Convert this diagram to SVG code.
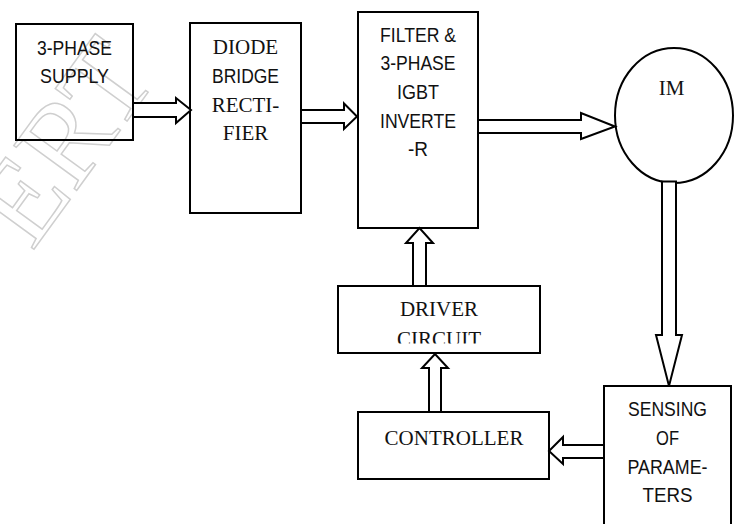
<svg xmlns="http://www.w3.org/2000/svg" width="738" height="524" viewBox="0 0 738 524">
<style>
.box{fill:#fff;stroke:#000;stroke-width:2}
.arr{fill:#fff;stroke:#000;stroke-width:2;stroke-linejoin:miter}
.s{font-family:"Liberation Sans",Arial,sans-serif;font-size:21px;fill:#111;text-anchor:middle}
.r{font-family:"Liberation Serif","Times New Roman",serif;font-size:21px;fill:#111;text-anchor:middle}
.wm{font-family:"Liberation Serif","Times New Roman",serif;font-size:118px;fill:#fff;stroke:#cfcfcf;stroke-width:1.5}
</style>
<defs>
<clipPath id="clipDrv"><rect x="338" y="286" width="210" height="57.5"/></clipPath>
</defs>
<rect width="738" height="524" fill="#fff"/>
<text class="wm" transform="translate(32,252) rotate(-54)">ERT</text>
<g id="supply">
<rect class="box" x="16" y="24" width="117" height="116" fill-opacity="0"/>
<text class="s" x="74.5" y="55" textLength="75" lengthAdjust="spacingAndGlyphs">3-PHASE</text>
<text class="s" x="74.5" y="83" textLength="69" lengthAdjust="spacingAndGlyphs">SUPPLY</text>
</g>
<g id="rectifier">
<rect class="box" x="190" y="23" width="111" height="190"/>
<text class="r" x="245.5" y="54">DIODE</text>
<text class="s" x="245.5" y="83" textLength="67" lengthAdjust="spacingAndGlyphs">BRIDGE</text>
<text class="r" x="245.5" y="112">RECTI-</text>
<text class="r" x="245.5" y="140">FIER</text>
</g>
<g id="inverter">
<rect class="box" x="358" y="12" width="120" height="216"/>
<text class="s" x="418" y="42" textLength="76" lengthAdjust="spacingAndGlyphs">FILTER &amp;</text>
<text class="s" x="418" y="70" textLength="75" lengthAdjust="spacingAndGlyphs">3-PHASE</text>
<text class="s" x="418" y="99" textLength="42" lengthAdjust="spacingAndGlyphs">IGBT</text>
<text class="s" x="418" y="128" textLength="76" lengthAdjust="spacingAndGlyphs">INVERTE</text>
<text class="s" x="418" y="156" textLength="20" lengthAdjust="spacingAndGlyphs">-R</text>
</g>
<g id="motor">
<ellipse class="box" cx="674" cy="115.5" rx="59" ry="67.5"/>
<text class="r" x="671.5" y="95">IM</text>
</g>
<g id="driver">
<rect class="box" x="338" y="286" width="202" height="67"/>
<text class="r" x="439" y="316">DRIVER</text>
<text class="r" x="439" y="345.5" clip-path="url(#clipDrv)">CIRCUIT</text>
</g>
<g id="controller">
<rect class="box" x="358" y="412" width="191" height="67"/>
<text class="r" x="454" y="445">CONTROLLER</text>
</g>
<g id="sensing">
<rect class="box" x="604" y="386" width="127" height="150"/>
<text class="s" x="667.5" y="416" textLength="79" lengthAdjust="spacingAndGlyphs">SENSING</text>
<text class="s" x="667.5" y="445" textLength="23" lengthAdjust="spacingAndGlyphs">OF</text>
<text class="s" x="667.5" y="474" textLength="80" lengthAdjust="spacingAndGlyphs">PARAME-</text>
<text class="s" x="667.5" y="502" textLength="50" lengthAdjust="spacingAndGlyphs">TERS</text>
</g>
<g id="connectors">
<polygon class="arr" points="133,103 176,103 176,98 191,110 176,123 176,117 133,117"/>
<polygon class="arr" points="301,110 344,110 344,103.5 357,116.5 344,129 344,123 301,123"/>
<polygon class="arr" points="478,120 581,120 581,113 615,126.5 581,139 581,133 478,133"/>
<polygon class="arr" points="662,181.5 662,335 656,335 669,386 682,335 676,335 676,181.5"/>
<polygon class="arr" points="604,445 563,445 563,437 549,451 563,464 563,458 604,458"/>
<polygon class="arr" points="429,412 429,368 422,368 435,354 448,368 441,368 441,412"/>
<polygon class="arr" points="413,286 413,243 406,243 419.5,228 433,243 426,243 426,286"/>
</g>
</svg>
